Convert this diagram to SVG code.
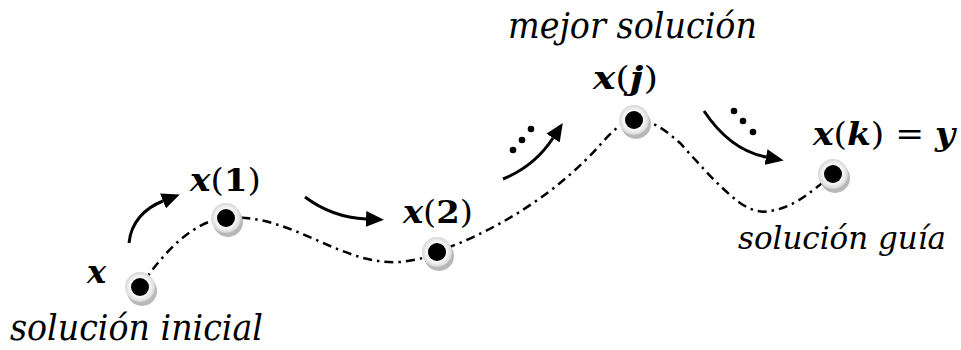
<svg xmlns="http://www.w3.org/2000/svg" width="961" height="350" viewBox="0 0 961 350">
<defs>
<style>
.m{font-family:"DejaVu Serif","Liberation Serif",serif;font-size:32px;fill:#000}
.bi{font-weight:bold;font-style:italic}
.b{font-weight:bold;font-style:normal}
.r{font-weight:normal;font-style:normal}
.lbl{font-family:"DejaVu Serif","Liberation Serif",serif;font-style:italic;font-size:35px;fill:#000}
.path{fill:none;stroke:#000;stroke-width:2.5;stroke-dasharray:9 5 2.5 5}
.arr{fill:none;stroke:#000;stroke-width:3;marker-end:url(#ah)}
.shadow{fill:#b8b8b8}
.ring{fill:url(#rg)}
.dot{fill:#000}
</style>
<radialGradient id="rg" cx="0.5" cy="0.5" r="0.5">
<stop offset="0" stop-color="#ffffff"/>
<stop offset="0.7" stop-color="#f4f4f4"/>
<stop offset="1" stop-color="#d6d6d6"/>
</radialGradient>
<marker id="ah" markerUnits="userSpaceOnUse" markerWidth="20" markerHeight="16" refX="0" refY="8" orient="auto">
<path d="M0,0 L18,8 L0,16 z" fill="#000"/>
</marker>
<g id="node-shape">
<circle class="shadow" cx="2" cy="4" r="15"/>
<circle class="ring" cx="0" cy="0" r="15"/>
<circle class="dot" cx="0" cy="0" r="9"/>
</g>
</defs>
<rect width="961" height="350" fill="#fff"/>
<g id="connectors">
<path class="path" d="M140,287 C165,250 195,220 226,218 C290,212 340,266 400,262 C420,260 430,256 436,252 C500,230 560,190 600,145 C615,128 625,120 634,120 C655,120 668,133 680,143 C700,165 720,188 740,203 C752,211 762,213 770,211 C790,208 805,198 834,173"/>
<path class="arr" d="M129,243 C131,222 145,208 163,201"/>
<path class="arr" d="M305,197 C325,212 345,218 366,219"/>
<path class="arr" d="M503,179 C525,170 542,155 553,138"/>
<path class="arr" d="M704,111 C720,135 740,152 766,157"/>
<circle cx="513" cy="150" r="3.3"/>
<circle cx="522" cy="140" r="3.3"/>
<circle cx="531" cy="129" r="3.3"/>
<circle cx="734" cy="111" r="3.3"/>
<circle cx="743" cy="121" r="3.3"/>
<circle cx="753" cy="132" r="3.3"/>
</g>
<g id="node-x">
<use href="#node-shape" x="140" y="287"/>
<text class="m bi" x="87" y="283">x</text>
<text class="lbl" x="10" y="340" textLength="253" lengthAdjust="spacingAndGlyphs">solución inicial</text>
</g>
<g id="node-x1">
<use href="#node-shape" x="226" y="218"/>
<text class="m" x="190" y="191" textLength="71" lengthAdjust="spacingAndGlyphs"><tspan class="bi">x</tspan><tspan class="r">(</tspan><tspan class="b">1</tspan><tspan class="r">)</tspan></text>
</g>
<g id="node-x2">
<use href="#node-shape" x="437" y="252"/>
<text class="m" x="403" y="223" textLength="70" lengthAdjust="spacingAndGlyphs"><tspan class="bi">x</tspan><tspan class="r">(</tspan><tspan class="b">2</tspan><tspan class="r">)</tspan></text>
</g>
<g id="node-xj">
<use href="#node-shape" x="634" y="120"/>
<text class="m" x="593" y="89" textLength="65" lengthAdjust="spacingAndGlyphs"><tspan class="bi">x</tspan><tspan class="r">(</tspan><tspan class="bi">j</tspan><tspan class="r">)</tspan></text>
<text class="lbl" x="508" y="38" textLength="249" lengthAdjust="spacingAndGlyphs">mejor solución</text>
</g>
<g id="node-xk">
<use href="#node-shape" x="833" y="174"/>
<text class="m" x="813" y="145" textLength="142" lengthAdjust="spacingAndGlyphs"><tspan class="bi">x</tspan><tspan class="r">(</tspan><tspan class="bi">k</tspan><tspan class="r">) = </tspan><tspan class="bi">y</tspan></text>
<text class="lbl" x="738" y="249" textLength="208" lengthAdjust="spacingAndGlyphs" style="font-size:32px">solución guía</text>
</g>
</svg>
